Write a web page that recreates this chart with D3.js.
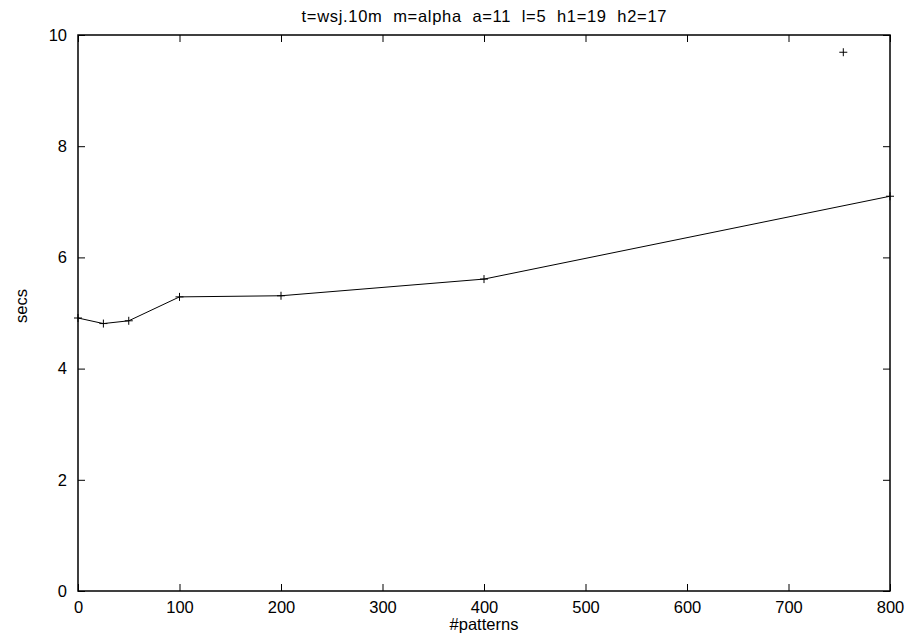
<!DOCTYPE html>
<html>
<head>
<meta charset="utf-8">
<script src="https://cdn.jsdelivr.net/npm/d3@7"></script>
<style>
  body { margin: 0; background: #fff; }
  text { font-family: "Liberation Sans", Arial, sans-serif; font-size: 16.5px; fill: #000; }
</style>
</head>
<body>
<div id="chart"></div>
<script>
// data
const patterns = [0, 25, 50, 100, 200, 400, 800];
const secs = [4.91, 4.81, 4.86, 5.29, 5.31, 5.61, 7.10];
const extraPatterns = [754];
const extraSecs = [9.69];
const xTicks = [0, 100, 200, 300, 400, 500, 600, 700, 800];
const yTicks = [0, 2, 4, 6, 8, 10];
const title = "t=wsj.10m  m=alpha  a=11  l=5  h1=19  h2=17";

const width = 909, height = 640;
const margin = { left: 78, right: 19, top: 35, bottom: 49 };

const svg = d3.select("#chart")
    .append("svg")
    .attr("width", width)
    .attr("height", height);

const x = d3.scaleLinear().domain([0, 800]).range([margin.left, width - margin.right]);
const y = d3.scaleLinear().domain([0, 10]).range([height - margin.bottom, margin.top]);

const tickLen = 7;

// axes - gnuplot style ticks on all four sides
svg.append("g")
    .attr("transform", `translate(0,${y(0)})`)
    .call(d3.axisBottom(x).tickValues(xTicks).tickSize(-tickLen).tickPadding(10).tickFormat(d3.format("d")))
    .call(g => g.select(".domain").remove());

svg.append("g")
    .attr("transform", `translate(0,${y(10)})`)
    .call(d3.axisTop(x).tickValues(xTicks).tickSize(-tickLen).tickFormat(""))
    .call(g => g.select(".domain").remove());

svg.append("g")
    .attr("transform", `translate(${x(0)},0)`)
    .call(d3.axisLeft(y).tickValues(yTicks).tickSize(-tickLen).tickPadding(11).tickFormat(d3.format("d")))
    .call(g => g.select(".domain").remove());

svg.append("g")
    .attr("transform", `translate(${x(800)},0)`)
    .call(d3.axisRight(y).tickValues(yTicks).tickSize(-tickLen).tickFormat(""))
    .call(g => g.select(".domain").remove());

svg.selectAll(".tick line").attr("stroke", "#000").attr("stroke-width", 1);
svg.selectAll(".tick text").attr("fill", "#000");
svg.selectAll("g").attr("font-family", null).attr("font-size", null);

// frame
svg.append("rect")
    .attr("x", x(0))
    .attr("y", y(10))
    .attr("width", x(800) - x(0))
    .attr("height", y(0) - y(10))
    .attr("fill", "none")
    .attr("stroke", "#000")
    .attr("stroke-width", 1.5);

// line
const pts = patterns.map((p, i) => [p, secs[i]]);
svg.append("path")
    .datum(pts)
    .attr("fill", "none")
    .attr("stroke", "#000")
    .attr("stroke-width", 1)
    .attr("d", d3.line().x(d => x(d[0])).y(d => y(d[1])));

// + markers
const allPts = pts.concat(extraPatterns.map((p, i) => [p, extraSecs[i]]));
const m = 4;
svg.append("g")
    .selectAll("path")
    .data(allPts)
    .enter().append("path")
    .attr("fill", "none")
    .attr("stroke", "#000")
    .attr("stroke-width", 1)
    .attr("d", d => {
        const px = x(d[0]), py = y(d[1]);
        return `M${px - m},${py}H${px + m}M${px},${py - m}V${py + m}`;
    });

// labels
svg.append("text")
    .attr("x", (x(0) + x(800)) / 2)
    .attr("y", 22)
    .attr("text-anchor", "middle")
    .attr("textLength", 365)
    .attr("lengthAdjust", "spacing")
    .text(title.replace(/ /g, "\u00A0"));

svg.append("text")
    .attr("x", (x(0) + x(800)) / 2)
    .attr("y", 630)
    .attr("text-anchor", "middle")
    .text("#patterns");

svg.append("text")
    .attr("transform", `translate(27,306) rotate(-90)`)
    .attr("text-anchor", "middle")
    .text("secs");
</script>
</body>
</html>
